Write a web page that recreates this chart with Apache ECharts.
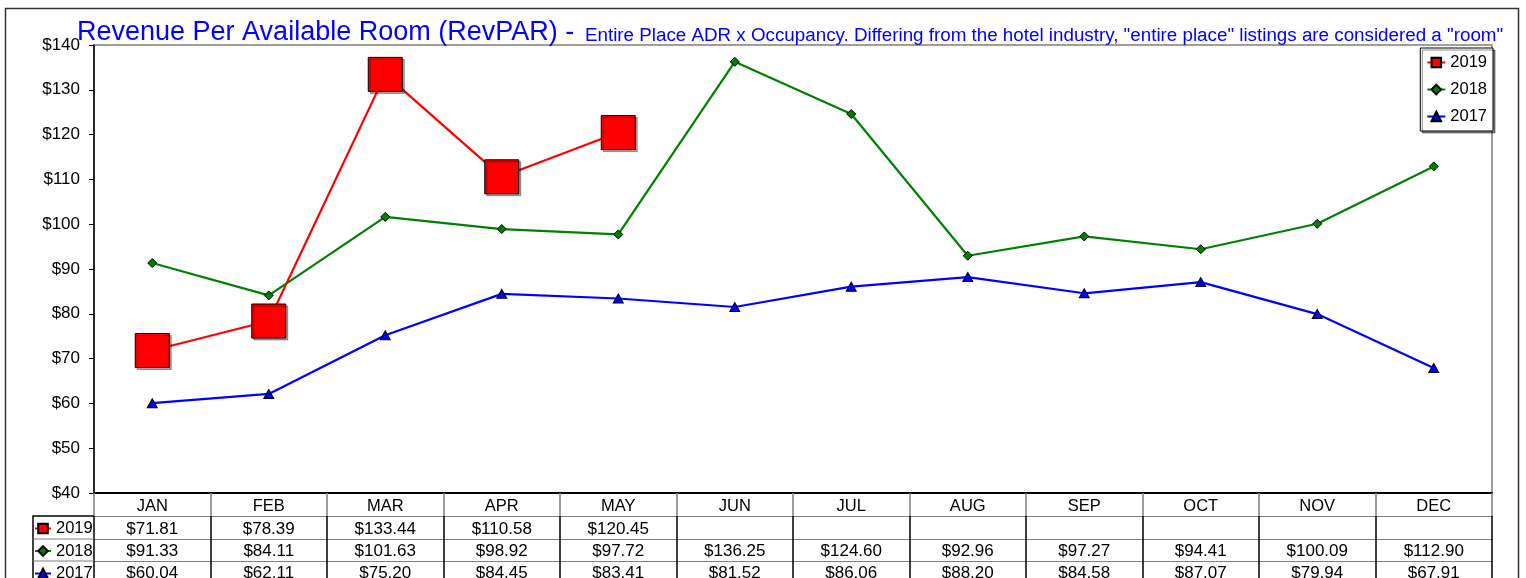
<!DOCTYPE html>
<html>
<head>
<meta charset="utf-8">
<title>RevPAR</title>
<script src="https://cdn.jsdelivr.net/npm/echarts@6/dist/echarts.min.js"></script>
<style>
  html, body { margin: 0; padding: 0; background: #fff; }
  #main { width: 1526px; height: 578px; }
</style>
</head>
<body>
<div id="main"></div>
<script>
var months = ['JAN', 'FEB', 'MAR', 'APR', 'MAY', 'JUN', 'JUL', 'AUG', 'SEP', 'OCT', 'NOV', 'DEC'];
var rev2019 = [71.81, 78.39, 133.44, 110.58, 120.45, null, null, null, null, null, null, null];
var rev2018 = [91.33, 84.11, 101.63, 98.92, 97.72, 136.25, 124.60, 92.96, 97.27, 94.41, 100.09, 112.90];
var rev2017 = [60.04, 62.11, 75.20, 84.45, 83.41, 81.52, 86.06, 88.20, 84.58, 87.07, 79.94, 67.91];
var yearNames = ['2019', '2018', '2017'];

var FONT = '"Liberation Sans", Arial, sans-serif';
var GRID_LEFT = 94, GRID_RIGHT = 34, GRID_TOP = 45, GRID_BOTTOM = 85;
var ROW_OFF = [23, 46, 68];     // offsets of the table rows below the x axis
var KEY_LEFT = 33;              // left edge of the legend-key column in the table

function money(v) {
  return (v === null || v === undefined) ? '' : '$' + v.toFixed(2);
}

function rowAxis(values, offset, showTick, margin) {
  return {
    type: 'category',
    data: months,
    position: 'bottom',
    offset: offset,
    axisLine: { show: true, lineStyle: { color: '#7f7f7f', width: 1 } },
    axisTick: { show: showTick, length: 67, lineStyle: { color: '#000', width: 1.5 } },
    axisLabel: {
      interval: 0, margin: margin, color: '#000', fontFamily: FONT, fontSize: 17, lineHeight: 17,
      formatter: function (v, i) { return money(values[i]); }
    },
    splitLine: { show: false }
  };
}

function draw() {
  var dom = document.getElementById('main');
  var myChart = echarts.init(dom, null, { renderer: 'canvas' });
  var H = 578;
  var axisY = H - GRID_BOTTOM;
  var rowY = ROW_OFF.map(function (o) { return axisY + o; });

  var option = {
    animation: false,
    backgroundColor: '#fff',
    title: [
      {
        text: 'Revenue Per Available Room (RevPAR) -',
        left: 77, top: 19, padding: 0,
        textStyle: { color: '#0000ff', fontFamily: FONT, fontSize: 27, fontWeight: 'normal', lineHeight: 27 }
      },
      {
        text: 'Entire Place ADR x Occupancy. Differing from the hotel industry, "entire place" listings are considered a "room"',
        left: 585, top: 26, padding: 0,
        textStyle: { color: '#0000ff', fontFamily: FONT, fontSize: 18.8, fontWeight: 'normal', lineHeight: 18.8 }
      }
    ],
    legend: [
      {
        data: yearNames,
        orient: 'vertical',
        right: 33, top: 48,
        itemWidth: 18, itemHeight: 12, itemGap: 10,
        padding: [6, 6, 6, 6],
        borderColor: '#000', borderWidth: 1,
        backgroundColor: '#fff',
        shadowColor: 'rgba(0,0,0,0.45)', shadowOffsetX: 2, shadowOffsetY: 2, shadowBlur: 0,
        textStyle: { color: '#000', fontFamily: FONT, fontSize: 16.5, lineHeight: 16 }
      },
      {
        data: yearNames,
        orient: 'vertical',
        left: KEY_LEFT, top: rowY[0] + 4, height: 70,
        itemWidth: 16, itemHeight: 12, itemGap: 5.5,
        padding: [0, 0, 0, 1],
        selectedMode: false,
        textStyle: { color: '#000', fontFamily: FONT, fontSize: 16.5, lineHeight: 16 }
      }
    ],
    grid: {
      left: GRID_LEFT, right: GRID_RIGHT, top: GRID_TOP, bottom: GRID_BOTTOM,
      outerBoundsMode: 'none', containLabel: false,
      show: true, borderColor: '#7f7f7f', borderWidth: 1.5, backgroundColor: '#fff'
    },
    xAxis: [
      {
        type: 'category',
        data: months,
        position: 'bottom',
        boundaryGap: true,
        axisLine: { show: true, lineStyle: { color: '#000', width: 2 } },
        axisTick: { show: true, length: ROW_OFF[0], lineStyle: { color: '#7f7f7f', width: 1.5 } },
        axisLabel: { interval: 0, margin: 5, color: '#000', fontFamily: FONT, fontSize: 16.5, lineHeight: 17 },
        splitLine: { show: false }
      },
      rowAxis(rev2019, ROW_OFF[0], true, 5),
      rowAxis(rev2018, ROW_OFF[1], false, 4),
      rowAxis(rev2017, ROW_OFF[2], false, 4)
    ],
    yAxis: {
      type: 'value',
      min: 40, max: 140, interval: 10,
      axisLine: { show: true, lineStyle: { color: '#000', width: 1.5 } },
      axisTick: { show: true, length: 5, lineStyle: { color: '#000' } },
      axisLabel: {
        margin: 14, color: '#000', fontFamily: FONT, fontSize: 17,
        formatter: function (v) { return '$' + v; }
      },
      splitLine: { show: false }
    },
    series: [
      {
        name: '2019', type: 'line', data: rev2019,
        symbol: 'rect', symbolSize: 34,
        lineStyle: { color: '#ff0000', width: 2.2 },
        itemStyle: {
          color: '#ff0000', borderColor: '#000', borderWidth: 1,
          shadowColor: 'rgba(0,0,0,0.35)', shadowOffsetX: 2, shadowOffsetY: 2, shadowBlur: 0
        },
        z: 2
      },
      {
        name: '2018', type: 'line', data: rev2018,
        symbol: 'diamond', symbolSize: 9,
        lineStyle: { color: '#008000', width: 2.2 },
        itemStyle: { color: '#008000', borderColor: '#000', borderWidth: 1 },
        z: 3
      },
      {
        name: '2017', type: 'line', data: rev2017,
        symbol: 'triangle', symbolSize: [10, 9],
        lineStyle: { color: '#0000ff', width: 2.2 },
        itemStyle: { color: '#0000ff', borderColor: '#000', borderWidth: 1 },
        z: 3
      }
    ],
    graphic: [
      // outer frame
      {
        type: 'rect', silent: true, z: 100,
        shape: { x: 5.5, y: 8.5, width: 1513, height: 620 },
        style: { fill: null, stroke: '#333', lineWidth: 1.5 }
      },
      // legend-key column of the data table
      {
        type: 'polyline', silent: true, z: 100,
        shape: { points: [[GRID_LEFT, rowY[0]], [KEY_LEFT, rowY[0]], [KEY_LEFT, H + 10]] },
        style: { fill: null, stroke: '#000', lineWidth: 1.5 }
      },
      {
        type: 'line', silent: true, z: 100,
        shape: { x1: KEY_LEFT, y1: rowY[1], x2: GRID_LEFT, y2: rowY[1] },
        style: { stroke: '#7f7f7f', lineWidth: 1 }
      },
      {
        type: 'line', silent: true, z: 100,
        shape: { x1: KEY_LEFT, y1: rowY[2], x2: GRID_LEFT, y2: rowY[2] },
        style: { stroke: '#7f7f7f', lineWidth: 1 }
      }
    ]
  };

  if (option && typeof option === 'object') {
    myChart.setOption(option, true);
  }
}
draw();
</script>
</body>
</html>
